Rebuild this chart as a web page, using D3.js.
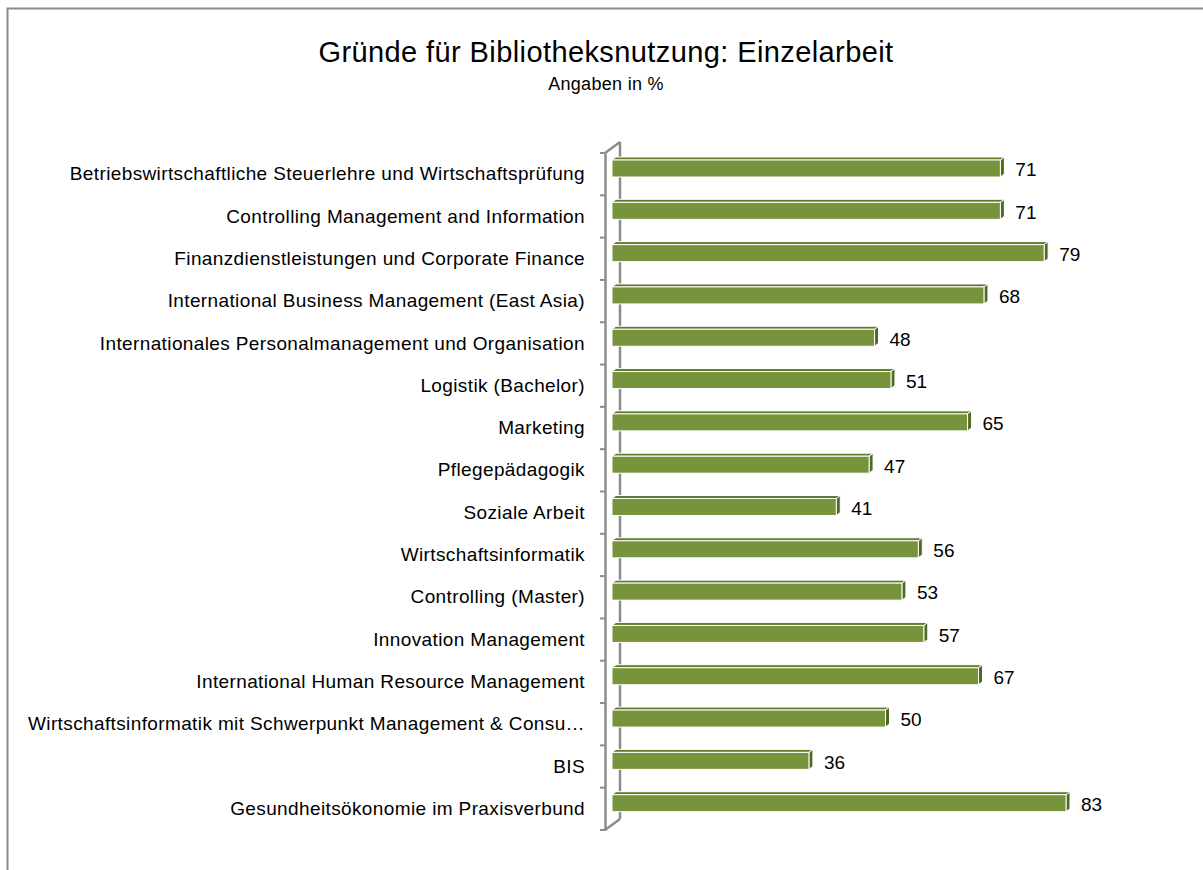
<!DOCTYPE html>
<html>
<head>
<meta charset="utf-8">
<script src="https://cdn.jsdelivr.net/npm/d3@7"></script>
<style>
  html, body { margin: 0; padding: 0; background: #fff; }
  svg { display: block; }
  text { font-family: "Liberation Sans", "DejaVu Sans", sans-serif; fill: #000; }
</style>
</head>
<body>
<svg id="chart" width="1203" height="870"></svg>
<script>
// Studiengänge (top to bottom) and share of students naming "Einzelarbeit" (%)
const categories = [
  "Betriebswirtschaftliche Steuerlehre und Wirtschaftsprüfung",
  "Controlling Management and Information",
  "Finanzdienstleistungen und Corporate Finance",
  "International Business Management (East Asia)",
  "Internationales Personalmanagement und Organisation",
  "Logistik (Bachelor)",
  "Marketing",
  "Pflegepädagogik",
  "Soziale Arbeit",
  "Wirtschaftsinformatik",
  "Controlling (Master)",
  "Innovation Management",
  "International Human Resource Management",
  "Wirtschaftsinformatik mit Schwerpunkt Management & Consu…",
  "BIS",
  "Gesundheitsökonomie im Praxisverbund"
];
const values = [71, 71, 79, 68, 48, 51, 65, 47, 41, 56, 53, 57, 67, 50, 36, 83];

const titleText = "Gründe für Bibliotheksnutzung: Einzelarbeit";
const subtitleText = "Angaben in %";

const svg = d3.select("#chart");

// outer frame
svg.append("rect")
  .attr("x", 7.5).attr("y", 8.5)
  .attr("width", 1300).attr("height", 1000)
  .attr("fill", "none").attr("stroke", "#8c8c8c").attr("stroke-width", 2);

// titles
svg.append("text")
  .attr("x", 606).attr("y", 62)
  .attr("text-anchor", "middle")
  .style("font-size", "29px")
  .style("letter-spacing", "0.4px")
  .text(titleText);
svg.append("text")
  .attr("x", 606).attr("y", 90)
  .attr("text-anchor", "middle")
  .style("font-size", "18px")
  .style("letter-spacing", "0.3px")
  .text(subtitleText);

// scales
const plotTop = 153, plotBottom = 830;
const frontX = 605, depthX = 15, depthY = 11;
const x = d3.scaleLinear().domain([0, 100]).range([612, 1159]);
const y = d3.scaleBand().domain(categories).range([plotTop, plotBottom]).padding(0);

const axisColor = "#8c8c8c";
const g = svg.append("g");

// back wall line of the 3D category axis
g.append("line")
  .attr("x1", frontX + depthX).attr("x2", frontX + depthX)
  .attr("y1", plotTop - depthY).attr("y2", plotBottom - depthY)
  .attr("stroke", axisColor).attr("stroke-width", 2.5);
// floor edges connecting front and back
g.append("line")
  .attr("x1", frontX).attr("y1", plotTop)
  .attr("x2", frontX + depthX).attr("y2", plotTop - depthY)
  .attr("stroke", axisColor).attr("stroke-width", 2.5);
g.append("line")
  .attr("x1", frontX).attr("y1", plotBottom)
  .attr("x2", frontX + depthX).attr("y2", plotBottom - depthY)
  .attr("stroke", axisColor).attr("stroke-width", 2.5);

// bars (3D look: top face, right face, front face)
const barH = 17, barOffset = 7, bd = 4, bdy = 3;
const frontFill = "#77933c", topFill = "#5f7a2b", sideFill = "#4f6a22";
const bars = g.selectAll("g.bar").data(categories.map((c, i) => ({ c, v: values[i] })))
  .enter().append("g").attr("class", "bar");

bars.append("path")
  .attr("d", d => {
    const x0 = x(0), x1 = x(d.v), y0 = y(d.c) + barOffset;
    return `M${x0},${y0}L${x0 + bd},${y0 - bdy}L${x1 + bd},${y0 - bdy}L${x1},${y0}Z`;
  })
  .attr("fill", topFill).attr("stroke", "#fff").attr("stroke-width", 1).attr("stroke-linejoin", "round");
bars.append("path")
  .attr("d", d => {
    const x1 = x(d.v), y0 = y(d.c) + barOffset;
    return `M${x1},${y0}L${x1 + bd},${y0 - bdy}L${x1 + bd},${y0 - bdy + barH}L${x1},${y0 + barH}Z`;
  })
  .attr("fill", sideFill).attr("stroke", "#fff").attr("stroke-width", 1).attr("stroke-linejoin", "round");
bars.append("rect")
  .attr("x", x(0))
  .attr("y", d => y(d.c) + barOffset)
  .attr("width", d => x(d.v) - x(0))
  .attr("height", barH)
  .attr("fill", frontFill).attr("stroke", "#fff").attr("stroke-width", 1);

// value labels
bars.append("text")
  .attr("x", d => x(d.v) + 15)
  .attr("y", d => y(d.c) + barOffset + barH / 2 + 1)
  .attr("dy", "0.36em")
  .style("font-size", "19px")
  .text(d => d.v);

// front category axis with ticks
const axis = d3.axisLeft(y).tickSize(0).tickPadding(20);
const ax = svg.append("g").attr("transform", `translate(${frontX},0)`).call(axis);
ax.select(".domain").attr("stroke", axisColor).attr("stroke-width", 2.5);
ax.selectAll(".tick text")
  .style("font-size", "19px")
  .style("letter-spacing", "0.38px")
  .style("font-family", "'Liberation Sans', 'DejaVu Sans', sans-serif")
  .attr("fill", "#000");
// boundary tick marks between categories
ax.selectAll("line.bound")
  .data(d3.range(categories.length + 1))
  .enter().append("line").attr("class", "bound")
  .attr("x1", -5).attr("x2", 0)
  .attr("y1", i => plotTop + i * y.step())
  .attr("y2", i => plotTop + i * y.step())
  .attr("stroke", axisColor).attr("stroke-width", 2);
</script>
</body>
</html>
